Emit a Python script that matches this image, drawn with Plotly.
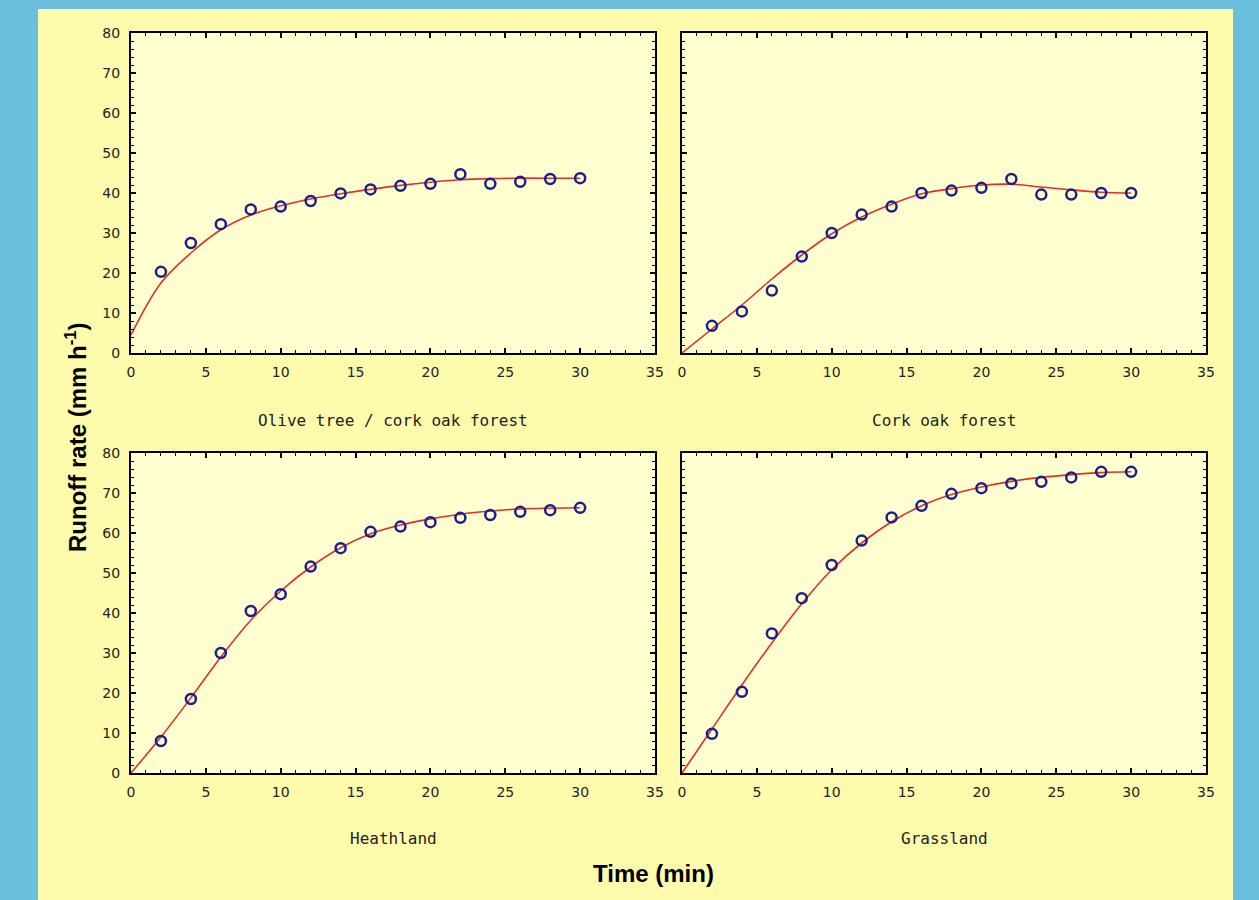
import plotly.graph_objects as go

# ---------------- data ----------------
time_obs = [2, 4, 6, 8, 10, 12, 14, 16, 18, 20, 22, 24, 26, 28, 30]
time_fit = [0, 2, 4, 6, 8, 10, 12, 14, 16, 18, 20, 22, 24, 26, 28, 30]

panel_names = ["Olive tree / cork oak forest", "Cork oak forest", "Heathland", "Grassland"]

olive_obs = [20.3, 27.5, 32.2, 35.9, 36.6, 38.0, 39.9, 40.9, 41.8, 42.3, 44.7, 42.3, 42.8, 43.5, 43.7]
olive_fit = [4.5, 17.5, 25.0, 30.8, 34.5, 36.8, 38.5, 39.8, 40.9, 41.9, 42.7, 43.3, 43.6, 43.7, 43.7, 43.7]

cork_obs = [6.8, 10.4, 15.6, 24.1, 30.0, 34.6, 36.6, 40.0, 40.6, 41.3, 43.5, 39.6, 39.6, 40.0, 40.0]
cork_fit = [0.0, 6.0, 12.0, 18.5, 24.5, 29.8, 34.0, 37.2, 39.8, 41.1, 42.0, 42.2, 41.5, 40.8, 40.2, 40.0]

heath_obs = [8.0, 18.5, 30.0, 40.5, 44.7, 51.6, 56.2, 60.3, 61.6, 62.7, 63.8, 64.5, 65.3, 65.7, 66.3]
heath_fit = [0.0, 9.0, 18.8, 29.0, 38.2, 45.5, 51.5, 56.3, 59.8, 62.0, 63.5, 64.7, 65.5, 66.0, 66.2, 66.3]

grass_obs = [9.8, 20.3, 34.9, 43.7, 52.0, 58.1, 63.9, 66.8, 69.8, 71.2, 72.4, 72.8, 73.9, 75.3, 75.3]
grass_fit = [0.0, 11.0, 22.0, 32.5, 42.3, 50.8, 57.5, 62.8, 66.8, 69.6, 71.5, 72.9, 73.9, 74.6, 75.1, 75.3]

obs_sets = [olive_obs, cork_obs, heath_obs, grass_obs]
fit_sets = [olive_fit, cork_fit, heath_fit, grass_fit]

x_ticks = [0, 5, 10, 15, 20, 25, 30, 35]
y_ticks = [0, 10, 20, 30, 40, 50, 60, 70, 80]

# ---------------- layout geometry (pixels) ----------------
W, H = 1259, 900
cols_px = [(131, 655), (682, 1206)]
rows_px = [(33, 353), (453, 773)]

BLUE = "#6CBEDD"
PANEL = "#FEFBAC"
PLOTBG = "#FFFFD0"
MARK = "#1E1E8C"
LINE = "#E0302A"

def px_x(p):
    return p / W

def px_y(p):
    return 1 - p / H

fig = go.Figure()

# blue frame strips on a yellow paper
shapes = [
    dict(type="rect", xref="paper", yref="paper", x0=-0.2, x1=px_x(38), y0=-0.2, y1=1.2,
         fillcolor=BLUE, line=dict(width=0), layer="below"),
    dict(type="rect", xref="paper", yref="paper", x0=px_x(1233), x1=1.2, y0=-0.2, y1=1.2,
         fillcolor=BLUE, line=dict(width=0), layer="below"),
    dict(type="rect", xref="paper", yref="paper", x0=-0.2, x1=1.2, y0=px_y(9), y1=1.2,
         fillcolor=BLUE, line=dict(width=0), layer="below"),
]
annotations = []

for i in range(4):
    r, c = divmod(i, 2)
    idx = "" if i == 0 else str(i + 1)
    xa = "x" + idx
    ya = "y" + idx
    x0, x1 = cols_px[c]
    y0, y1 = rows_px[r]

    fig.add_trace(go.Scatter(
        x=time_fit, y=fit_sets[i], mode="lines", line=dict(color=LINE, width=1.6, shape="spline", smoothing=1.0),
        xaxis=xa, yaxis=ya, showlegend=False, hoverinfo="skip"))
    fig.add_trace(go.Scatter(
        x=time_obs, y=obs_sets[i], mode="markers",
        marker=dict(symbol="circle-open", size=10, color=MARK, line=dict(width=2.5, color=MARK)),
        xaxis=xa, yaxis=ya, showlegend=False))

    axis_common = dict(
        showline=True, linecolor="black", linewidth=2, mirror="allticks",
        ticks="inside", ticklen=5, tickwidth=1.5, tickcolor="black",
        showgrid=False, zeroline=False, automargin=False,
        tickfont=dict(family="DejaVu Sans", size=14, color="#222222"),
    )
    fig.layout["xaxis" + idx] = dict(
        axis_common, domain=[px_x(x0), px_x(x1)], range=[0, 35],
        tickvals=x_ticks, ticktext=[str(v) for v in x_ticks],
        minor=dict(ticks="inside", ticklen=3, tickwidth=1, tickcolor="black", dtick=1),
        anchor=ya, ticklabelstandoff=5,
    )
    fig.layout["yaxis" + idx] = dict(
        axis_common, domain=[px_y(y1), px_y(y0)], range=[0, 80],
        tickvals=y_ticks, ticktext=[str(v) for v in y_ticks],
        minor=dict(ticks="inside", ticklen=3, tickwidth=1, tickcolor="black", dtick=2),
        anchor=xa, showticklabels=(c == 0), ticklabelstandoff=6,
    )
    shapes.append(dict(type="rect", xref=xa + " domain", yref=ya + " domain",
                       x0=0, x1=1, y0=0, y1=1, fillcolor=PLOTBG, line=dict(width=0), layer="below"))

    title_y = 420 if r == 0 else 838
    annotations.append(dict(
        text=panel_names[i], xref="paper", yref="paper",
        x=px_x((x0 + x1) / 2), y=px_y(title_y), xanchor="center", yanchor="middle",
        showarrow=False, font=dict(family="DejaVu Sans Mono", size=16, color="#222222")))

annotations.append(dict(
    text="Time (min)", xref="paper", yref="paper", x=px_x(653), y=px_y(873),
    xanchor="center", yanchor="middle", showarrow=False,
    font=dict(family="Liberation Sans", size=24, color="black", weight="bold")))
annotations.append(dict(
    text="Runoff rate (mm h<sup>-1</sup>)", xref="paper", yref="paper", x=px_x(76), y=px_y(437),
    xanchor="center", yanchor="middle", showarrow=False, textangle=-90,
    font=dict(family="Liberation Sans", size=24, color="black", weight="bold")))

fig.update_layout(
    width=W, height=H, margin=dict(l=0, r=0, t=0, b=0, pad=0, autoexpand=False),
    paper_bgcolor=PANEL, plot_bgcolor=PLOTBG,
    shapes=shapes, annotations=annotations,
)

fig.write_html("out.html")
